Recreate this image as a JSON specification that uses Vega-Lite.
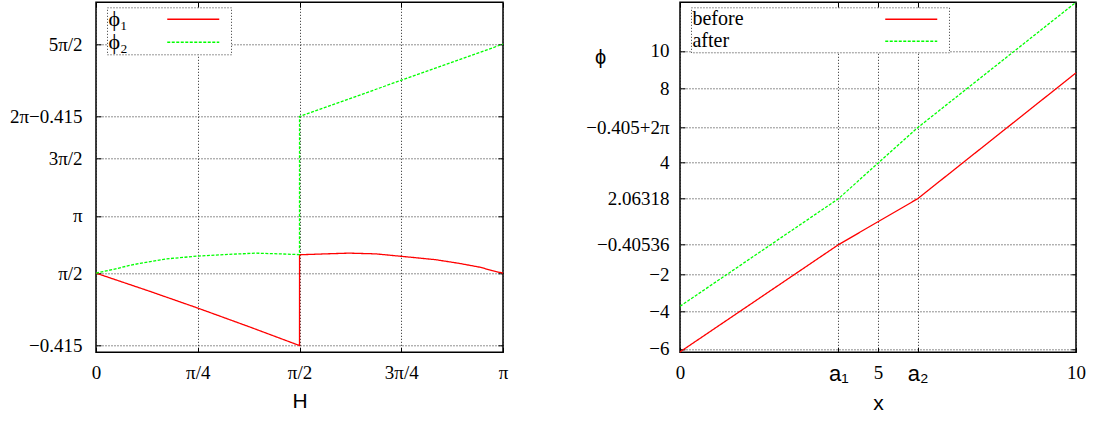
{
  "$schema": "https://vega.github.io/schema/vega-lite/v6.json",
  "background": "white",
  "padding": {"left": 8, "top": -1.7, "right": 0, "bottom": 0},
  "datasets": {
    "phaseH": [
      {"H": 0, "phi": 1.5708, "curve": "ϕ₁"},
      {"H": 0.3927, "phi": 1.1, "curve": "ϕ₁"},
      {"H": 0.7854, "phi": 0.613, "curve": "ϕ₁"},
      {"H": 1.1781, "phi": 0.106, "curve": "ϕ₁"},
      {"H": 1.5708, "phi": -0.415, "curve": "ϕ₁"},
      {"H": 1.5712, "phi": 2.075, "curve": "ϕ₁"},
      {"H": 1.773, "phi": 2.1, "curve": "ϕ₁"},
      {"H": 1.953, "phi": 2.12, "curve": "ϕ₁"},
      {"H": 2.159, "phi": 2.1, "curve": "ϕ₁"},
      {"H": 2.364, "phi": 2.03, "curve": "ϕ₁"},
      {"H": 2.622, "phi": 1.94, "curve": "ϕ₁"},
      {"H": 2.802, "phi": 1.84, "curve": "ϕ₁"},
      {"H": 2.97, "phi": 1.73, "curve": "ϕ₁"},
      {"H": 3.057, "phi": 1.64, "curve": "ϕ₁"},
      {"H": 3.1416, "phi": 1.5708, "curve": "ϕ₁"},
      {"H": 0, "phi": 1.5708, "curve": "ϕ₂"},
      {"H": 0.152, "phi": 1.69, "curve": "ϕ₂"},
      {"H": 0.28, "phi": 1.8, "curve": "ϕ₂"},
      {"H": 0.538, "phi": 1.96, "curve": "ϕ₂"},
      {"H": 0.785, "phi": 2.04, "curve": "ϕ₂"},
      {"H": 1.052, "phi": 2.09, "curve": "ϕ₂"},
      {"H": 1.233, "phi": 2.12, "curve": "ϕ₂"},
      {"H": 1.413, "phi": 2.1, "curve": "ϕ₂"},
      {"H": 1.5708, "phi": 2.08, "curve": "ϕ₂"},
      {"H": 1.5712, "phi": 5.868, "curve": "ϕ₂"},
      {"H": 3.1416, "phi": 7.854, "curve": "ϕ₂"}
    ],
    "phaseX": [
      {"x": 0, "phi": -6.16, "curve": "before"},
      {"x": 4, "phi": -0.40536, "curve": "before"},
      {"x": 6, "phi": 2.06318, "curve": "before"},
      {"x": 10, "phi": 8.82, "curve": "before"},
      {"x": 0, "phi": -3.71, "curve": "after"},
      {"x": 4, "phi": 2.06318, "curve": "after"},
      {"x": 6, "phi": 5.878185, "curve": "after"},
      {"x": 10, "phi": 12.61, "curve": "after"}
    ]
  },
  "spacing": 75,
  "hconcat": [
    {
      "width": 407,
      "height": 350,
      "data": {"name": "phaseH"},
      "layer": [
        {
          "mark": {"type": "line", "strokeWidth": 1.3},
          "encoding": {
            "x": {
              "field": "H", "type": "quantitative",
              "scale": {"domain": [0, 3.1415926536], "nice": false, "zero": false},
              "axis": {
                "title": "H",
                "labelFont": "Liberation Serif",
                "labelPadding": 16,
                "titlePadding": 8,
                "values": [0, 0.7853981634, 1.5707963268, 2.3561944902, 3.1415926536],
                "labelExpr": "datum.value < 0.1 ? '0' : datum.value < 1 ? 'π/4' : datum.value < 2 ? 'π/2' : datum.value < 3 ? '3π/4' : 'π'"
              }
            },
            "y": {
              "field": "phi", "type": "quantitative",
              "scale": {"domain": [-0.6, 9.0], "nice": false, "zero": false},
              "axis": {
                "title": null,
                "labelFont": "Liberation Serif",
                "labelPadding": 19,
                "values": [-0.415, 1.5707963268, 3.1415926536, 4.7123889804, 5.8681853072, 7.853981634],
                "labelExpr": "datum.value < 0 ? '−0.415' : datum.value < 2 ? 'π/2' : datum.value < 4 ? 'π' : datum.value < 5 ? '3π/2' : datum.value < 6 ? '2π−0.415' : '5π/2'"
              }
            },
            "color": {
              "field": "curve", "type": "nominal",
              "scale": {"domain": ["ϕ₁", "ϕ₂"], "range": ["#ff0000", "#00ff00"]},
              "legend": {"title": null, "symbolOffset": 79.25, "labelOffset": -100.75, "labelFontSize": 22}
            },
            "strokeDash": {
              "field": "curve", "type": "nominal",
              "scale": {"domain": ["ϕ₁", "ϕ₂"], "range": [[1, 0], [3, 1.5]]},
              "legend": {"title": null, "symbolOffset": 79.25, "labelOffset": -100.75, "labelFontSize": 22}
            }
          }
        },
        {
          "mark": {"type": "point", "opacity": 0, "size": 0, "strokeWidth": 0},
          "encoding": {
            "x": {"field": "H", "type": "quantitative",
              "axis": {"orient": "top", "labels": false, "grid": false, "title": null, "values": [0, 0.7853981634, 1.5707963268, 2.3561944902, 3.1415926536]}},
            "y": {"field": "phi", "type": "quantitative",
              "axis": {"orient": "right", "labels": false, "grid": false, "title": null, "values": [-0.415, 1.5707963268, 3.1415926536, 4.7123889804, 5.8681853072, 7.853981634]}}
          }
        }
      ],
      "resolve": {"axis": {"x": "independent", "y": "independent"}}
    },
    {
      "width": 396,
      "height": 350,
      "data": {"name": "phaseX"},
      "layer": [
        {
          "mark": {"type": "line", "strokeWidth": 1.3},
          "encoding": {
            "x": {
              "field": "x", "type": "quantitative",
              "scale": {"domain": [0, 10], "nice": false, "zero": false},
              "axis": {
                "title": "x",
                "labelPadding": 16,
                "titlePadding": 8,
                "values": [0, 4, 5, 6, 10],
                "labelExpr": "datum.value == 4 ? 'a₁' : datum.value == 6 ? 'a₂' : datum.value == 5 ? '5' : datum.value == 10 ? '10' : '0'",
                "labelFont": {"condition": {"test": "datum.value == 4 || datum.value == 6", "value": "Liberation Sans"}, "value": "Liberation Serif"},
                "labelFontSize": {"condition": {"test": "datum.value == 4 || datum.value == 6", "value": 22}, "value": 19}
              }
            },
            "y": {
              "field": "phi", "type": "quantitative",
              "scale": {"domain": [-6.18, 12.61], "nice": false, "zero": false},
              "axis": {
                "title": "ϕ",
                "titleAngle": 0,
                "titleX": -80,
                "titleY": 55,
                "titleAlign": "center",
                "titleBaseline": "middle",
                "titleFontSize": 20,
                "labelFont": "Liberation Serif",
                "labelPadding": 16,
                "values": [-6, -4, -2, -0.40536, 2.06318, 4, 5.878185, 8, 10],
                "labelExpr": "abs(datum.value - 5.878185) < 0.01 ? '−0.405+2π' : abs(datum.value + 0.40536) < 0.01 ? '−0.40536' : abs(datum.value - 2.06318) < 0.01 ? '2.06318' : datum.value < 0 ? '−' + format(-datum.value, 'd') : format(datum.value, 'd')"
              }
            },
            "color": {
              "field": "curve", "type": "nominal",
              "scale": {"domain": ["before", "after"], "range": ["#ff0000", "#00ff00"]},
              "legend": {"title": null, "symbolOffset": 213.25, "labelOffset": -234.75}
            },
            "strokeDash": {
              "field": "curve", "type": "nominal",
              "scale": {"domain": ["before", "after"], "range": [[1, 0], [3, 1.5]]},
              "legend": {"title": null, "symbolOffset": 213.25, "labelOffset": -234.75}
            }
          }
        },
        {
          "mark": {"type": "point", "opacity": 0, "size": 0, "strokeWidth": 0},
          "encoding": {
            "x": {"field": "x", "type": "quantitative",
              "axis": {"orient": "top", "labels": false, "grid": false, "title": null, "values": [0, 4, 5, 6, 10]}},
            "y": {"field": "phi", "type": "quantitative",
              "axis": {"orient": "right", "labels": false, "grid": false, "title": null, "values": [-6, -4, -2, -0.40536, 2.06318, 4, 5.878185, 8, 10]}}
          }
        }
      ],
      "resolve": {"axis": {"x": "independent", "y": "independent"}}
    }
  ],
  "resolve": {"scale": {"x": "independent", "y": "independent", "color": "independent", "strokeDash": "independent"}},
  "config": {
    "view": {"stroke": "#000", "strokeWidth": 1.5},
    "axis": {
      "domain": false,
      "grid": true,
      "gridColor": "#222",
      "gridDash": [1, 2],
      "gridWidth": 1,
      "ticks": true,
      "tickSize": -5,
      "tickColor": "#000",
      "tickWidth": 1,
      "labelFont": "Liberation Serif",
      "labelFontSize": 19,
      "labelColor": "#000",
      "labelFlush": false,
      "labelOverlap": false,
      "titleFont": "Liberation Sans",
      "titleFontSize": 21,
      "titleFontWeight": "normal",
      "titleColor": "#000"
    },
    "legend": {
      "orient": "none",
      "legendX": 11,
      "legendY": 5,
      "direction": "vertical",
      "symbolType": "M-3.1,0H2.1M2.8,0",
      "symbolSize": 400,
      "symbolStrokeWidth": 1.5,
      "labelFont": "Liberation Serif",
      "labelFontSize": 20,
      "labelColor": "#000",
      "labelLimit": 300,
      "padding": 1,
      "rowPadding": 1,
      "fillColor": "white",
      "strokeColor": "#333",
      "strokeDash": [1, 2]
    }
  }
}
